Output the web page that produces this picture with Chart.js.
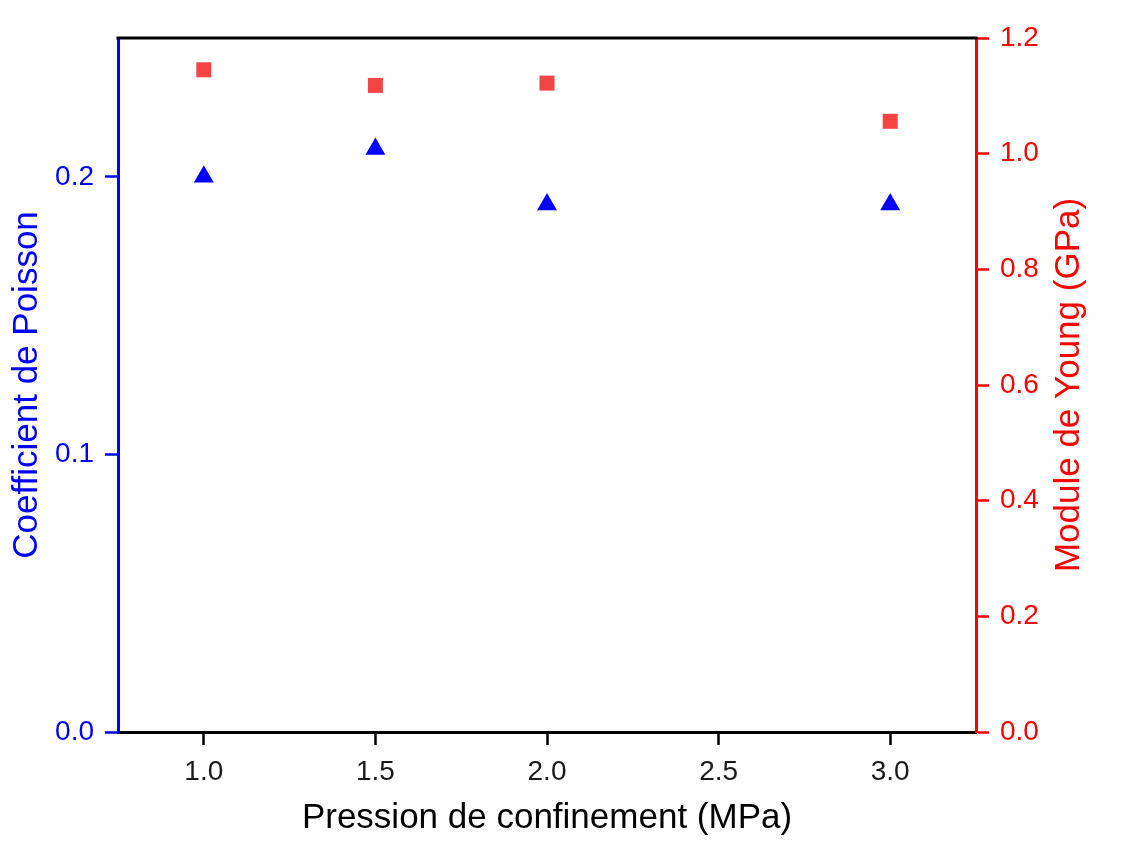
<!DOCTYPE html>
<html>
<head>
<meta charset="utf-8">
<script src="https://cdn.jsdelivr.net/npm/chart.js@4/dist/chart.umd.min.js"></script>
<style>
  html, body { margin: 0; padding: 0; background: #fff; }
  #wrap { width: 1143px; height: 844px; }
</style>
</head>
<body>
<div id="wrap"><canvas id="chart" width="1143" height="844"></canvas></div>
<script>
// données
const pressions = [1.0, 1.5, 2.0, 3.0];           // MPa
const poisson = [0.20, 0.21, 0.19, 0.19];          // coefficient de Poisson
const young = [1.145, 1.118, 1.122, 1.056];        // GPa

const xTicks = [1.0, 1.5, 2.0, 2.5, 3.0];
const poissonTicks = [0.0, 0.1, 0.2];
const youngTicks = [0.0, 0.2, 0.4, 0.6, 0.8, 1.0, 1.2];

const titreDroite = 'Module de Young (GPa)';

const police = "'Liberation Sans', Arial, sans-serif";
const bleu = '#0000ff';
const rouge = '#ff0000';

const toPoints = (xs, ys) => xs.map((x, i) => ({ x, y: ys[i] }));
const fixTicks = (valeurs) => (scale) => { scale.ticks = valeurs.map(v => ({ value: v })); };

// trait noir en haut du cadre + titre de l'axe droit (lu de bas en haut)
const cadreHaut = {
    id: 'cadreHaut',
    afterDraw(chart) {
        const { ctx, chartArea } = chart;
        ctx.save();
        ctx.strokeStyle = '#000';
        ctx.lineWidth = 3;
        ctx.beginPath();
        ctx.moveTo(chartArea.left - 1.5, chartArea.top);
        ctx.lineTo(chartArea.right + 1.5, chartArea.top);
        ctx.stroke();

        ctx.translate(1069, (chartArea.top + chartArea.bottom) / 2);
        ctx.rotate(-Math.PI / 2);
        ctx.fillStyle = rouge;
        ctx.font = `35px ${police}`;
        ctx.textAlign = 'center';
        ctx.textBaseline = 'middle';
        ctx.fillText(titreDroite, 0, 0);
        ctx.restore();
    }
};

new Chart(document.getElementById('chart'), {
    type: 'scatter',
    data: {
        datasets: [
            {
                label: 'Coefficient de Poisson',
                data: toPoints(pressions, poisson),
                yAxisID: 'yP',
                pointStyle: 'triangle',
                pointRadius: 11.5,
                pointBorderWidth: 0,
                backgroundColor: bleu,
                borderColor: bleu
            },
            {
                label: 'Module de Young',
                data: toPoints(pressions, young),
                yAxisID: 'yE',
                pointStyle: 'rect',
                pointRadius: 10.6,
                pointBorderWidth: 0,
                backgroundColor: '#f34343',
                borderColor: '#f34343'
            }
        ]
    },
    options: {
        responsive: false,
        animation: false,
        layout: { padding: { top: 38, left: 0, right: 0, bottom: 0 } },
        plugins: { legend: { display: false }, tooltip: { enabled: false } },
        scales: {
            x: {
                type: 'linear',
                position: 'bottom',
                min: 0.75,
                max: 3.25,
                afterBuildTicks: fixTicks(xTicks),
                afterFit: (s) => { s.height = 112; },
                grid: { drawOnChartArea: false, drawTicks: true, tickLength: 13, tickWidth: 2.5, tickColor: '#000' },
                border: { display: true, color: '#000', width: 3 },
                ticks: { color: '#1a1a1a', padding: 10, font: { family: police, size: 28 }, callback: v => v.toFixed(1) },
                title: { display: true, text: 'Pression de confinement (MPa)', color: '#000', padding: { bottom: 5 }, font: { family: police, size: 35 } }
            },
            yP: {
                type: 'linear',
                position: 'left',
                min: 0,
                max: 0.25,
                afterBuildTicks: fixTicks(poissonTicks),
                afterFit: (s) => { s.width = 118; },
                grid: { drawOnChartArea: false, drawTicks: true, tickLength: 13, tickWidth: 2.5, tickColor: bleu },
                border: { display: true, color: bleu, width: 3 },
                ticks: { color: bleu, padding: 11, font: { family: police, size: 28 }, callback: v => v.toFixed(1) },
                title: { display: true, text: 'Coefficient de Poisson', color: bleu, padding: { top: 6 }, font: { family: police, size: 35 } }
            },
            yE: {
                type: 'linear',
                position: 'right',
                min: 0,
                max: 1.2,
                afterBuildTicks: fixTicks(youngTicks),
                afterFit: (s) => { s.width = 167; },
                grid: { drawOnChartArea: false, drawTicks: true, tickLength: 13, tickWidth: 2.5, tickColor: rouge },
                border: { display: true, color: rouge, width: 3 },
                ticks: { color: rouge, padding: 11, font: { family: police, size: 28 }, callback: v => v.toFixed(1) },
                title: { display: false }
            }
        }
    },
    plugins: [cadreHaut]
});
</script>
</body>
</html>
